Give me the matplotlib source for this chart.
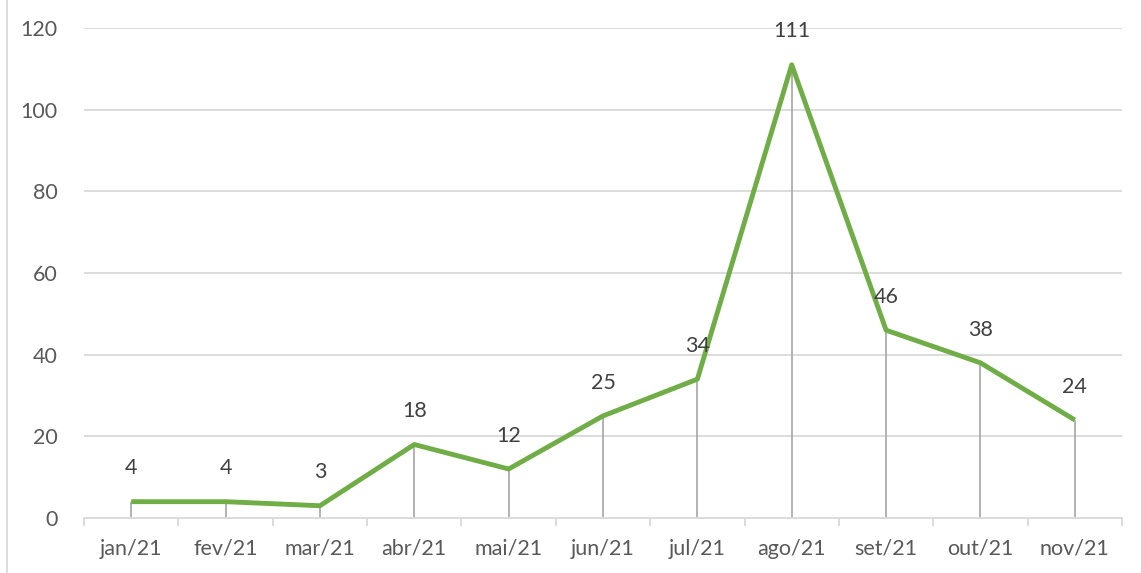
import matplotlib.pyplot as plt
from matplotlib.lines import Line2D
import numpy as np

# data
meses = ['jan/21', 'fev/21', 'mar/21', 'abr/21', 'mai/21', 'jun/21',
         'jul/21', 'ago/21', 'set/21', 'out/21', 'nov/21']
valores = [4, 4, 3, 18, 12, 25, 34, 111, 46, 38, 24]
yticks = [0, 20, 40, 60, 80, 100, 120]

plt.rcParams['font.family'] = ['Lato', 'DejaVu Sans']

fig = plt.figure(figsize=(11.41, 5.73), dpi=100)
ax = fig.add_axes([84/1141, 1 - 518/573, (1122 - 84)/1141, (518 - 28)/573])

x = np.arange(len(meses))

# grid
for yv in yticks[1:]:
    ax.axhline(yv, color='#d9d9d9', lw=1.3, zorder=0)

# drop lines
ax.vlines(x, 0, valores, color='#a6a6a6', lw=1.2, zorder=1)

ax.plot(x, valores, color='#70ad47', lw=3.5, solid_joinstyle='round',
        solid_capstyle='butt', zorder=3)

for xi, v in zip(x, valores):
    ax.annotate(str(v), (xi, v), xytext=(0, 24), textcoords='offset points',
                ha='center', va='center', fontsize=15.5, color='#404040')

ax.set_xlim(-0.5, len(meses) - 0.5)
ax.set_ylim(0, 120)
ax.set_yticks(yticks)
ax.set_xticks(x)
ax.set_xticklabels(meses)

# category boundary ticks
ax.set_xticks(np.arange(-0.5, len(meses)), minor=True)
ax.tick_params(axis='x', which='major', length=0, pad=15, labelsize=15.5,
               labelcolor='#595959')
ax.tick_params(axis='x', which='minor', length=6, color='#d9d9d9', width=1.3,
               direction='out')
ax.tick_params(axis='y', length=0, pad=19, labelsize=15.5, labelcolor='#595959')

for s in ['top', 'right', 'left']:
    ax.spines[s].set_visible(False)
ax.spines['bottom'].set_color('#d9d9d9')
ax.spines['bottom'].set_linewidth(1.3)

# chart area border on the left
fig.add_artist(Line2D([7/1141, 7/1141], [0, 1], color='#d9d9d9', lw=1.3,
                      transform=fig.transFigure))

fig.savefig('out.png', dpi=100)
